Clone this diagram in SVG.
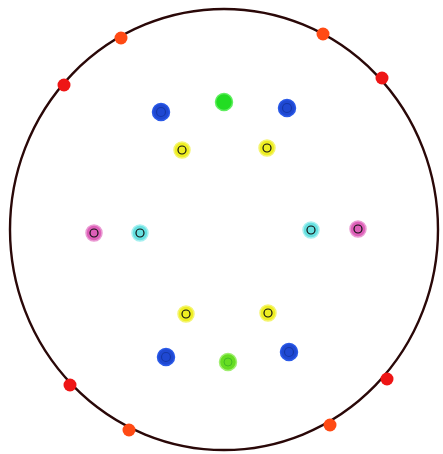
<svg xmlns="http://www.w3.org/2000/svg" width="443" height="454" viewBox="0 0 443 454">
<style>
.rim{fill:none;stroke:#2a0808;stroke-width:2.4}
.red{fill:#ee1515}
.org{fill:#ff4a14}
.blue{fill:#1f48d2;stroke:#2a5ae8;stroke-width:1.5}
.ring{fill:none;stroke:#111;stroke-width:1.2}
.bring{fill:none;stroke:#1538a8;stroke-width:1.2}
.yel{fill:#eeee22;stroke:#f4f470;stroke-width:1.5}
.pink{fill:#dd5fb8;stroke:#ea9ad3;stroke-width:1.5}
.cyan{fill:#66e0e0;stroke:#a6f0f0;stroke-width:1.5}
</style>
<rect width="443" height="454" fill="#fff"/>
<g id="rim"><ellipse class="rim" cx="224" cy="229.5" rx="214" ry="220.5"/></g>
<g id="edge-dots">
<circle class="org" cx="121" cy="38" r="6.5"/>
<circle class="red" cx="64" cy="85" r="6.5"/>
<circle class="org" cx="323" cy="34" r="6.5"/>
<circle class="red" cx="382" cy="78" r="6.5"/>
<circle class="red" cx="70" cy="385" r="6.5"/>
<circle class="org" cx="129" cy="430" r="6.5"/>
<circle class="red" cx="387" cy="379" r="6.5"/>
<circle class="org" cx="330" cy="425" r="6.5"/>
</g>
<g id="top">
<circle class="blue" cx="161" cy="112" r="8.5"/><circle class="bring" cx="161" cy="112" r="4.5"/>
<circle cx="224" cy="102" r="8.5" fill="#22dd22" stroke="#60ee60" stroke-width="1.5"/>
<circle class="blue" cx="287" cy="108" r="8.5"/><circle class="bring" cx="287" cy="108" r="4.5"/>
<circle class="yel" cx="182" cy="150" r="8"/><circle class="ring" cx="182" cy="150" r="4"/>
<circle class="yel" cx="267" cy="148" r="8"/><circle class="ring" cx="267" cy="148" r="4"/>
</g>
<g id="middle">
<circle class="pink" cx="94" cy="233" r="8"/><circle class="ring" cx="94" cy="233" r="4"/>
<circle class="cyan" cx="140" cy="233" r="8"/><circle class="ring" cx="140" cy="233" r="4"/>
<circle class="cyan" cx="311" cy="230" r="8"/><circle class="ring" cx="311" cy="230" r="4"/>
<circle class="pink" cx="358" cy="229" r="8"/><circle class="ring" cx="358" cy="229" r="4"/>
</g>
<g id="bottom">
<circle class="yel" cx="186" cy="314" r="8"/><circle class="ring" cx="186" cy="314" r="4"/>
<circle class="yel" cx="268" cy="313" r="8"/><circle class="ring" cx="268" cy="313" r="4"/>
<circle class="blue" cx="166" cy="357" r="8.5"/><circle class="bring" cx="166" cy="357" r="4.5"/>
<circle cx="228" cy="362" r="8.5" fill="#66dd22" stroke="#a0ee70" stroke-width="1.5"/><circle cx="228" cy="362" r="4" fill="none" stroke="#44bb22" stroke-width="1"/>
<circle class="blue" cx="289" cy="352" r="8.5"/><circle class="bring" cx="289" cy="352" r="4.5"/>
</g>
</svg>
